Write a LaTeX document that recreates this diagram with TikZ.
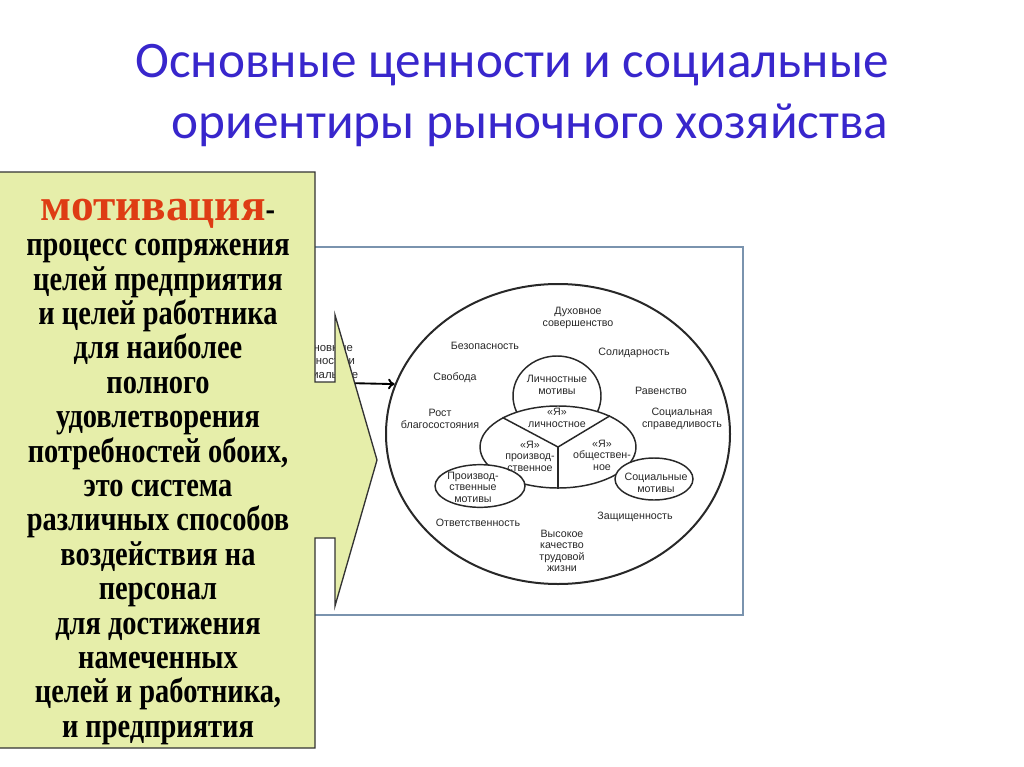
\documentclass[tikz,border=0pt]{standalone}
\usepackage{fontspec}
\setmainfont{Liberation Serif}
\setsansfont{Liberation Sans}
\newfontfamily\titlefont{Carlito}
\newfontfamily\boxfont[FakeStretch=0.82]{Liberation Serif}
\usetikzlibrary{shapes.geometric,arrows.meta,positioning}

\definecolor{titleblue}{RGB}{56,38,204}
\definecolor{calloutfill}{RGB}{230,238,170}
\definecolor{motivred}{RGB}{222,60,20}
\definecolor{framegray}{RGB}{122,147,174}
\definecolor{inkgray}{RGB}{40,40,40}

\begin{document}
\begin{tikzpicture}[
    x=0.75pt, y=-0.75pt,
    titletext/.style={
        font=\titlefont\fontsize{38.4}{42}\selectfont,
        text=titleblue,
        inner sep=0pt
    },
    oval/.style={
        ellipse,
        draw=inkgray,
        line width=1.1pt,
        fill=white,
        inner sep=0pt
    },
    lbl/.style={
        font=\sffamily\fontsize{8}{8.6}\selectfont,
        text=inkgray,
        align=center,
        inner sep=0pt
    },
    boxtext/.style={
        font=\boxfont\bfseries\fontsize{26}{25.8}\selectfont,
        align=center,
        inner sep=0pt
    }
]
\useasboundingbox (0,0) rectangle (1024,767);

% --- заголовок ---
\node[titletext, anchor=base] (title1) at (512,78) {Основные ценности и социальные};
\node[titletext, anchor=base] (title2) at (530,138) {ориентиры рыночного хозяйства};

% --- схема (фон) ---
\draw[framegray, line width=1.2pt] (300,247) rectangle (743,615);
\node[lbl, font=\sffamily\fontsize{8.5}{10}\selectfont] (cut) at (326,362) {Основные\\ценности и\\социальные};

% большой круг
\node[oval, minimum width=258pt, minimum height=225pt, line width=1.5pt] (outer) at (558,434) {};
% личностные мотивы
\node[oval, minimum width=66pt, minimum height=60pt] (lichm) at (557,396) {};
% "Я"
\node[oval, minimum width=117pt, minimum height=61.5pt] (ya) at (558,447) {};
\draw[inkgray, line width=1.1pt] (ya.center) -- (ya.152);
\draw[inkgray, line width=1.1pt] (ya.center) -- (ya.31);
\draw[inkgray, line width=1.1pt] (ya.center) -- (ya.270);
% боковые мотивы
\node[oval, minimum width=67.5pt, minimum height=32pt] (proizm) at (480,486) {};
\node[oval, minimum width=58.5pt, minimum height=31.5pt] (socm) at (654,479) {};

% подписи
\node[lbl] (duh) at (578,318) {Духовное\\совершенство};
\node[lbl] (bez) at (485,346) {Безопасность};
\node[lbl] (sol) at (634,353) {Солидарность};
\node[lbl] (svo) at (455,378) {Свобода};
\node[lbl] (lichmt) at (557,385) {Личностные\\мотивы};
\node[lbl] (rav) at (661,391) {Равенство};
\node[lbl] (rost) at (440,419) {Рост\\благосостояния};
\node[lbl] (yal) at (557,418) {«Я»\\личностное};
\node[lbl] (spr) at (682,419) {Социальная\\справедливость};
\node[lbl] (yap) at (530,456) {«Я»\\производ-\\ственное};
\node[lbl] (yao) at (602,455) {«Я»\\обществен-\\ное};
\node[lbl] (proizmt) at (473,487) {Производ-\\ственные\\мотивы};
\node[lbl] (socmt) at (656,483) {Социальные\\мотивы};
\node[lbl] (otv) at (478,523) {Ответственность};
\node[lbl] (zasch) at (635,517) {Защищенность};
\node[lbl] (vys) at (562,551) {Высокое\\качество\\трудовой\\жизни};

% стрелка к кругу
\coordinate (arrtail) at (345,383);
\draw[-{To[length=5pt,width=8pt]}, line width=1.4pt] (arrtail) -- (outer.163);

% --- выноска ---
\draw[fill=calloutfill, draw=black!80, line width=1pt]
    (-2,172) -- (315,172) -- (315,382) -- (335,382) -- (335,315)
    -- (377,460) -- (335,606) -- (335,538) -- (315,538) -- (315,748)
    -- (-2,748) -- cycle;

\node[boxtext, anchor=base] (motivhead) at (158,220) {{\color{motivred}\rmfamily\bfseries\fontsize{34}{36}\selectfont мотивация}-};
\node[boxtext] (motivbody) at (158,492) {процесс сопряжения\\
    целей предприятия\\
    и целей работника\\
    для наиболее\\
    полного\\
    удовлетворения\\
    потребностей обоих,\\
    это система\\
    различных способов\\
    воздействия на\\
    персонал\\
    для достижения\\
    намеченных\\
    целей и работника,\\
    и предприятия};
\end{tikzpicture}
\end{document}
